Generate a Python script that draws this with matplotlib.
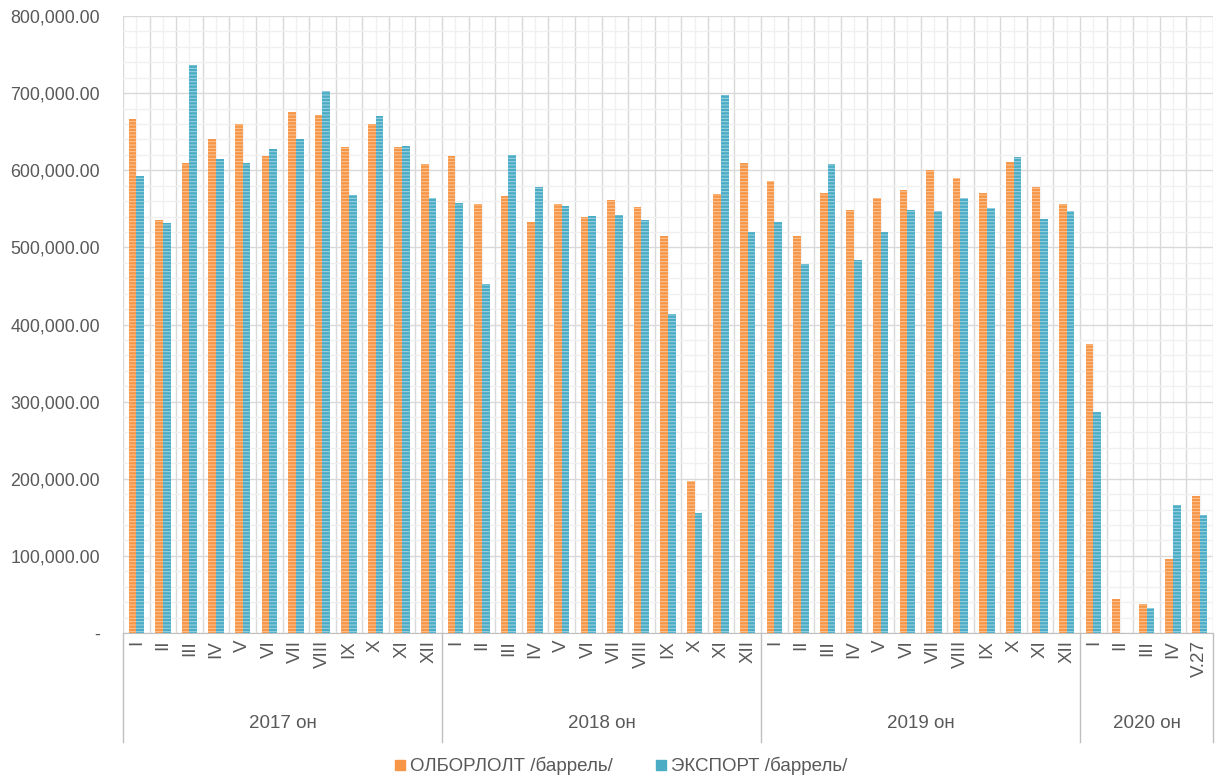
import matplotlib
matplotlib.use("Agg")

import numpy as np
import matplotlib.pyplot as plt
import matplotlib.transforms as mtransforms
from matplotlib.lines import Line2D
from matplotlib.ticker import FuncFormatter, MultipleLocator

plt.rcParams['font.family'] = ['Liberation Sans', 'DejaVu Sans']
plt.rcParams['hatch.linewidth'] = 0.7

# data
years = ["2017 он", "2018 он", "2019 он", "2020 он"]
months_per_year = [12, 12, 12, 5]
month_labels = (["I", "II", "III", "IV", "V", "VI", "VII", "VIII", "IX", "X", "XI", "XII"] * 3
                + ["I", "II", "III", "IV", "V.27"])

production = [667000, 536000, 610000, 640000, 660000, 619000, 675000, 672000, 630000, 660000, 630000, 608000,
              619000, 556000, 567000, 533000, 556000, 539000, 562000, 552000, 515000, 197000, 569000, 610000,
              586000, 515000, 570000, 549000, 564000, 574000, 600000, 590000, 570000, 611000, 578000, 556000,
              375000, 44000, 38000, 96000, 178000]
export = [592000, 532000, 737000, 614000, 610000, 628000, 640000, 703000, 568000, 670000, 632000, 564000,
          558000, 452000, 620000, 578000, 554000, 541000, 542000, 535000, 414000, 155000, 698000, 520000,
          533000, 478000, 608000, 483000, 520000, 549000, 547000, 564000, 551000, 617000, 537000, 547000,
          287000, 0, 33000, 166000, 153000]

series_names = ["ОЛБОРЛОЛТ /баррель/", "ЭКСПОРТ /баррель/"]
c_orange, c_orange_h = "#F79646", "#FBC69C"
c_teal, c_teal_h = "#4BACC6", "#A3D4E2"
text_col = "#595959"

W, H = 1225, 782
fig = plt.figure(figsize=(W / 100, H / 100), dpi=100)
left, right, top, bottom = 123, 1213, 16, 633
ax = fig.add_axes([left / W, (H - bottom) / H, (right - left) / W, (bottom - top) / H])

n = len(month_labels)
x = np.arange(n)
bw = 0.29
ax.bar(x - bw / 2, production, bw, color=c_orange, edgecolor=c_orange_h, hatch='-----', linewidth=0, zorder=3)
ax.bar(x + bw / 2, export, bw, color=c_teal, edgecolor=c_teal_h, hatch='-----', linewidth=0, zorder=3)

ax.set_xlim(-0.5, n - 0.5)
ax.set_ylim(0, 800000)

# grid
ax.yaxis.set_major_locator(MultipleLocator(100000))
ax.yaxis.set_minor_locator(MultipleLocator(20000))
ax.set_xticks(np.arange(n + 1) - 0.5)
ax.set_xticks(x, minor=True)
ax.grid(which='major', color='#D9D9D9', linewidth=1.0, zorder=0)
ax.grid(which='minor', color='#F0F0F0', linewidth=1.0, zorder=0)
ax.set_axisbelow(True)

for s in ['top', 'right', 'left']:
    ax.spines[s].set_visible(False)
ax.spines['bottom'].set_color('#BFBFBF')

ax.yaxis.set_major_formatter(FuncFormatter(lambda v, p: "-" if v == 0 else f"{v:,.2f}"))
ax.tick_params(axis='y', which='both', length=0, pad=16.5, labelsize=12.8, labelcolor=text_col)
ax.tick_params(axis='x', which='both', length=0, labelbottom=False)

# month labels and year groups
trans = mtransforms.blended_transform_factory(ax.transData, ax.transAxes)
ph = bottom - top
for i, lab in enumerate(month_labels):
    ax.text(i, -7 / ph, lab, rotation=90, ha='center', va='top', fontsize=13.5,
            color=text_col, transform=trans)

start = 0
bounds = [0]
for yr, m in zip(years, months_per_year):
    ax.text(start + m / 2 - 0.5, -91 / ph, yr, ha='center', va='center', fontsize=13.5,
            color=text_col, transform=trans)
    start += m
    bounds.append(start)
for b in bounds:
    ax.plot([b - 0.5, b - 0.5], [0, -(742 - bottom) / ph], color='#BFBFBF', linewidth=1.0,
            transform=trans, clip_on=False)

handles = [Line2D([], [], marker='s', linestyle='none', markersize=7, color=c_orange),
           Line2D([], [], marker='s', linestyle='none', markersize=7, color=c_teal)]
fig.legend(handles, series_names, loc='center', bbox_to_anchor=(620 / W, 1 - 766 / H), ncol=2,
           frameon=False, fontsize=13.5, labelcolor=text_col, handletextpad=0.1,
           columnspacing=2.2, handlelength=0.8)

fig.savefig("out.png", dpi=100)
